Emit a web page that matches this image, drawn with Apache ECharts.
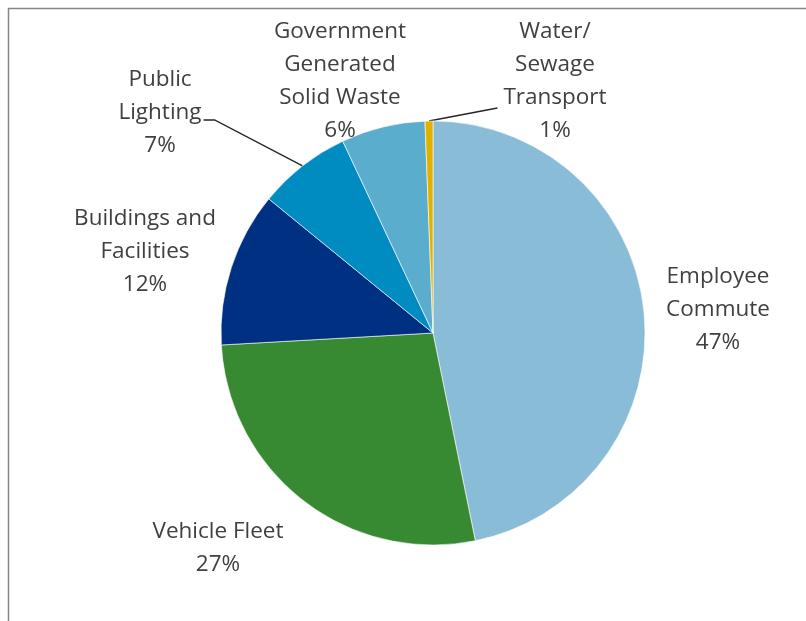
<!DOCTYPE html>
<html>
<head>
<meta charset="utf-8">
<script src="https://cdn.jsdelivr.net/npm/echarts@6/dist/echarts.min.js"></script>
<style>
  html, body { margin: 0; padding: 0; background: #ffffff; }
  #chart { width: 806px; height: 621px; }
</style>
</head>
<body>
<div id="chart"></div>
<script>
// Emission sources (display names, with line breaks) and their shares in percent
const categories = [
  'Employee\nCommute',
  'Vehicle Fleet',
  'Buildings and\nFacilities',
  'Public\nLighting',
  'Government\nGenerated\nSolid Waste',
  'Water/\nSewage\nTransport'
];
const shares = [46.8, 27.3, 11.8, 7.1, 6.4, 0.6];
const sliceColors = ['#89bcd6', '#388a32', '#003082', '#008bc1', '#5badce', '#e2b100'];
// Slices whose label is tied to the pie with a leader line
const withLeader = [false, false, false, true, false, true];

// Label block centres in pixels, one per slice
const labelSpots = [
  [718, 310],
  [218, 548],
  [145, 252],
  [160, 113],
  [340, 81],
  [555, 81]
];

const chart = echarts.init(document.getElementById('chart'), null, { renderer: 'canvas' });

const pieData = categories.map((name, i) => ({
  name: name,
  value: shares[i],
  itemStyle: { color: sliceColors[i] },
  labelLine: { show: withLeader[i] }
}));

// Leader line: from the slice edge to a point beside the label block
function leaderPoints(p, spot) {
  const start = p.labelLinePoints[0];
  const halfW = p.labelRect.width / 2;
  if (p.dataIndex === 3) {
    // label sits left of the slice: end with a short horizontal run
    const endX = spot[0] + halfW + 2;
    const y = spot[1] + 7;
    return [start, [endX + 11, y], [endX, y]];
  }
  // label sits right of the slice: a single straight run
  const end = [spot[0] - halfW - 6, spot[1] + 27];
  return [start, end, end];
}

chart.setOption({
  animation: false,
  backgroundColor: '#ffffff',
  graphic: [{
    type: 'rect',
    silent: true,
    shape: { x: 8.5, y: 8.5, width: 900, height: 700 },
    style: { fill: 'none', stroke: '#868686', lineWidth: 1.5 }
  }],
  series: [{
    type: 'pie',
    center: [433, 333],
    radius: 212,
    startAngle: 90,
    clockwise: true,
    percentPrecision: 0,
    avoidLabelOverlap: false,
    itemStyle: { borderColor: '#ffffff', borderWidth: 0.6 },
    label: {
      show: true,
      position: 'outside',
      formatter: '{b}\n{d}%',
      fontFamily: 'Open Sans',
      fontSize: 22.5,
      lineHeight: 33,
      color: '#404040',
      align: 'center'
    },
    labelLine: {
      length: 20,
      length2: 12,
      lineStyle: { color: '#262626', width: 1.4 }
    },
    labelLayout: function (p) {
      const spot = labelSpots[p.dataIndex];
      const out = { x: spot[0], y: spot[1], align: 'center', verticalAlign: 'middle' };
      if (withLeader[p.dataIndex] && p.labelLinePoints) {
        out.labelLinePoints = leaderPoints(p, spot);
      }
      return out;
    },
    data: pieData
  }]
});
</script>
</body>
</html>
